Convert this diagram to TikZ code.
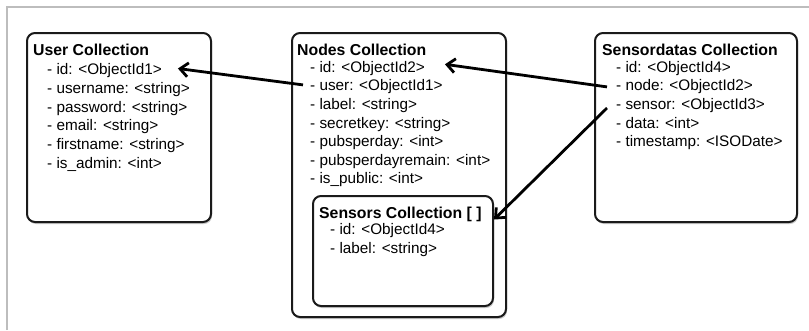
\documentclass[tikz,border=0pt]{standalone}
\usepackage{fontspec}
\setmainfont{Liberation Sans}
\usetikzlibrary{arrows.meta,shadows}
\definecolor{frameline}{HTML}{BDBDBD}
\definecolor{boxline}{HTML}{1A1A1A}
\tikzset{
  x=1pt, y=-1pt,
  coll/.style={draw=boxline, line width=2pt, rounded corners=8pt, fill=white, inner sep=0pt,
    drop shadow={shadow xshift=1pt, shadow yshift=-2pt, fill=black!35, opacity=0.6}},
  ttl/.style={anchor=base west, inner sep=0pt, font=\fontsize{15.8}{18}\selectfont\bfseries},
  itm/.style={anchor=base west, inner sep=0pt, font=\fontsize{15.3}{18}\selectfont, text=black},
  link/.style={line width=2.8pt, -{Straight Barb[length=8pt,width=14pt,line width=2.8pt]}, black}
}
\begin{document}
\begin{tikzpicture}
\useasboundingbox (0,0) rectangle (809,330);
% outer frame
\draw[frameline, line width=1.2pt] (7,330) -- (7,7) -- (809,7);

% boxes
\node[coll, minimum width=184pt, minimum height=189pt] (ub) at (119,127.5) {};
\node[coll, minimum width=214pt, minimum height=284pt] (nb) at (399,175) {};
\node[coll, minimum width=180pt, minimum height=110pt] (sb) at (403,251) {};
\node[coll, minimum width=202pt, minimum height=189pt] (db) at (696,127.5) {};

% User Collection
\node[ttl] (u0) at (33,55.5) {User Collection};
\node[itm] (u1) at (47,74.5) {- id: <ObjectId1>};
\node[itm] (u2) at (47,93.3) {- username: <string>};
\node[itm] (u3) at (47,112.1) {- password: <string>};
\node[itm] (u4) at (47,130.9) {- email: <string>};
\node[itm] (u5) at (47,149.7) {- firstname: <string>};
\node[itm] (u6) at (47,168.5) {- is\_admin: <int>};

% Nodes Collection
\node[ttl] (n0) at (297,55.5) {Nodes Collection};
\node[itm] (n1) at (310,72.3) {- id: <ObjectId2>};
\node[itm] (n2) at (310,90.9) {- user: <ObjectId1>};
\node[itm] (n3) at (310,109.5) {- label: <string>};
\node[itm] (n4) at (310,128.1) {- secretkey: <string>};
\node[itm] (n5) at (310,146.7) {- pubsperday: <int>};
\node[itm] (n6) at (310,165.3) {- pubsperdayremain: <int>};
\node[itm] (n7) at (310,183.9) {- is\_public: <int>};

% Sensors Collection
\node[ttl] (s0) at (319,218.5) {Sensors Collection [ ]};
\node[itm] (s1) at (330,234.5) {- id: <ObjectId4>};
\node[itm] (s2) at (330,253.3) {- label: <string>};

% Sensordatas Collection
\node[ttl] (d0) at (602,55.5) {Sensordatas Collection};
\node[itm] (d1) at (616,72.3) {- id: <ObjectId4>};
\node[itm] (d2) at (616,90.9) {- node: <ObjectId2>};
\node[itm] (d3) at (616,109.5) {- sensor: <ObjectId3>};
\node[itm] (d4) at (616,128.1) {- data: <int>};
\node[itm] (d5) at (616,146.7) {- timestamp: <ISODate>};

% connectors
\draw[link] ([xshift=-7pt,yshift=6pt]n2.base west) -- ([xshift=16pt,yshift=6pt]u1.base east);
\draw[link] ([xshift=-9pt,yshift=4pt]d2.base west) -- ([xshift=20pt,yshift=8pt]n1.base east);
\draw[link] ([xshift=-9pt,yshift=1.5pt]d3.base west) -- ([yshift=-1pt]sb.east |- s0.base);
\end{tikzpicture}
\end{document}
